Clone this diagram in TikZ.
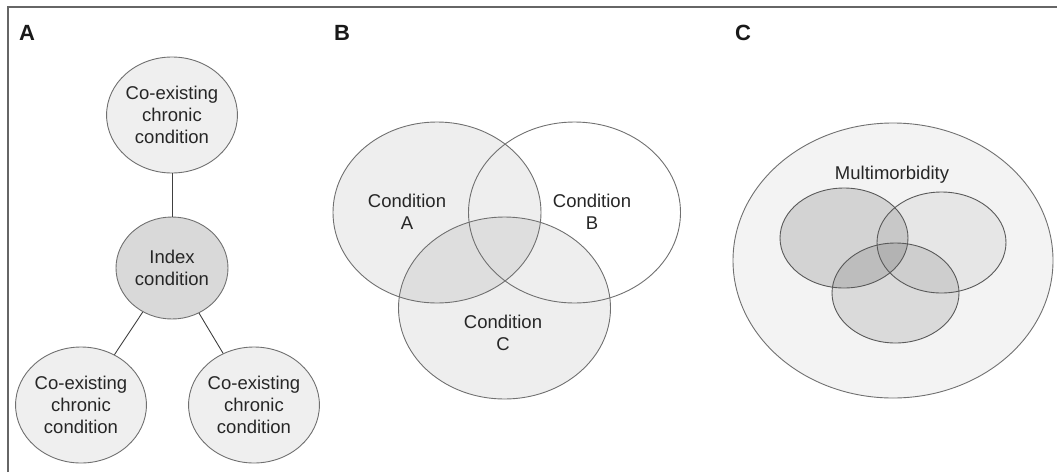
\documentclass[tikz,border=0pt]{standalone}
\usepackage{fontspec}
\setmainfont{Liberation Sans}
\usetikzlibrary{shapes.geometric}
\definecolor{edge}{HTML}{707070}
\definecolor{lightfill}{HTML}{EFEFEF}
\definecolor{indexfill}{HTML}{D9D9D9}
\definecolor{outerfill}{HTML}{F3F3F3}
\tikzset{
  txt/.style={font=\fontsize{18.5}{22}\selectfont, align=center, text=black!85},
  panellabel/.style={font=\fontsize{22}{24}\selectfont\bfseries, text=black!90},
  bubble/.style={ellipse, draw=edge, line width=0.9pt, inner sep=0pt, txt},
  conn/.style={draw=black!75, line width=0.9pt},
  venn/.style={draw=edge, line width=0.9pt},
}
\begin{document}
\begin{tikzpicture}[x=1pt,y=-1pt]
\useasboundingbox (0,0) rectangle (1057,472);
% frame
\draw[draw=black!60, line width=1.5pt] (8,472) -- (8,7) -- (1057,7);

% panel labels
\node[panellabel] (LA) at (27,33) {A};
\node[panellabel] (LB) at (342,33) {B};
\node[panellabel] (LC) at (743,33) {C};

% Panel A
\node[bubble, fill=lightfill, minimum width=120pt, minimum height=116pt] (top) at (172,115) {Co-existing\\chronic\\condition};
\node[bubble, fill=indexfill, minimum width=112pt, minimum height=102pt] (idx) at (172,268) {Index\\condition};
\node[bubble, fill=lightfill, minimum width=122pt, minimum height=116pt] (bl) at (81,405) {Co-existing\\chronic\\condition};
\node[bubble, fill=lightfill, minimum width=122pt, minimum height=116pt] (br) at (254,405) {Co-existing\\chronic\\condition};
\draw[conn] (top) -- (idx);
\draw[conn] (idx) -- (bl);
\draw[conn] (idx) -- (br);

% Panel B
\fill[black, fill opacity=0.065] (437,212.5) ellipse [x radius=104, y radius=90.5];
\fill[black, fill opacity=0.065] (504.5,308) ellipse [x radius=106, y radius=91];
\draw[venn] (437,212.5) ellipse [x radius=104, y radius=90.5];
\draw[venn] (574.5,212.5) ellipse [x radius=106, y radius=90.5];
\draw[venn] (504.5,308) ellipse [x radius=106, y radius=91];
\node[txt] (cA) at (407,212) {Condition\\A};
\node[txt] (cB) at (592,212) {Condition\\B};
\node[txt] (cC) at (503,333) {Condition\\C};

% Panel C
\draw[venn, fill=outerfill] (893,260.5) ellipse [x radius=160, y radius=137.5];
\fill[black, fill opacity=0.13] (844,238) ellipse [x radius=64, y radius=50];
\fill[black, fill opacity=0.05] (941.5,242.5) ellipse [x radius=64.5, y radius=50.5];
\fill[black, fill opacity=0.10] (895.5,293) ellipse [x radius=63.5, y radius=50];
\draw[venn, draw=black!65] (844,238) ellipse [x radius=64, y radius=50];
\draw[venn, draw=black!65] (941.5,242.5) ellipse [x radius=64.5, y radius=50.5];
\draw[venn, draw=black!65] (895.5,293) ellipse [x radius=63.5, y radius=50];
\node[txt] (multi) at (892,175) {Multimorbidity};
\end{tikzpicture}
\end{document}
